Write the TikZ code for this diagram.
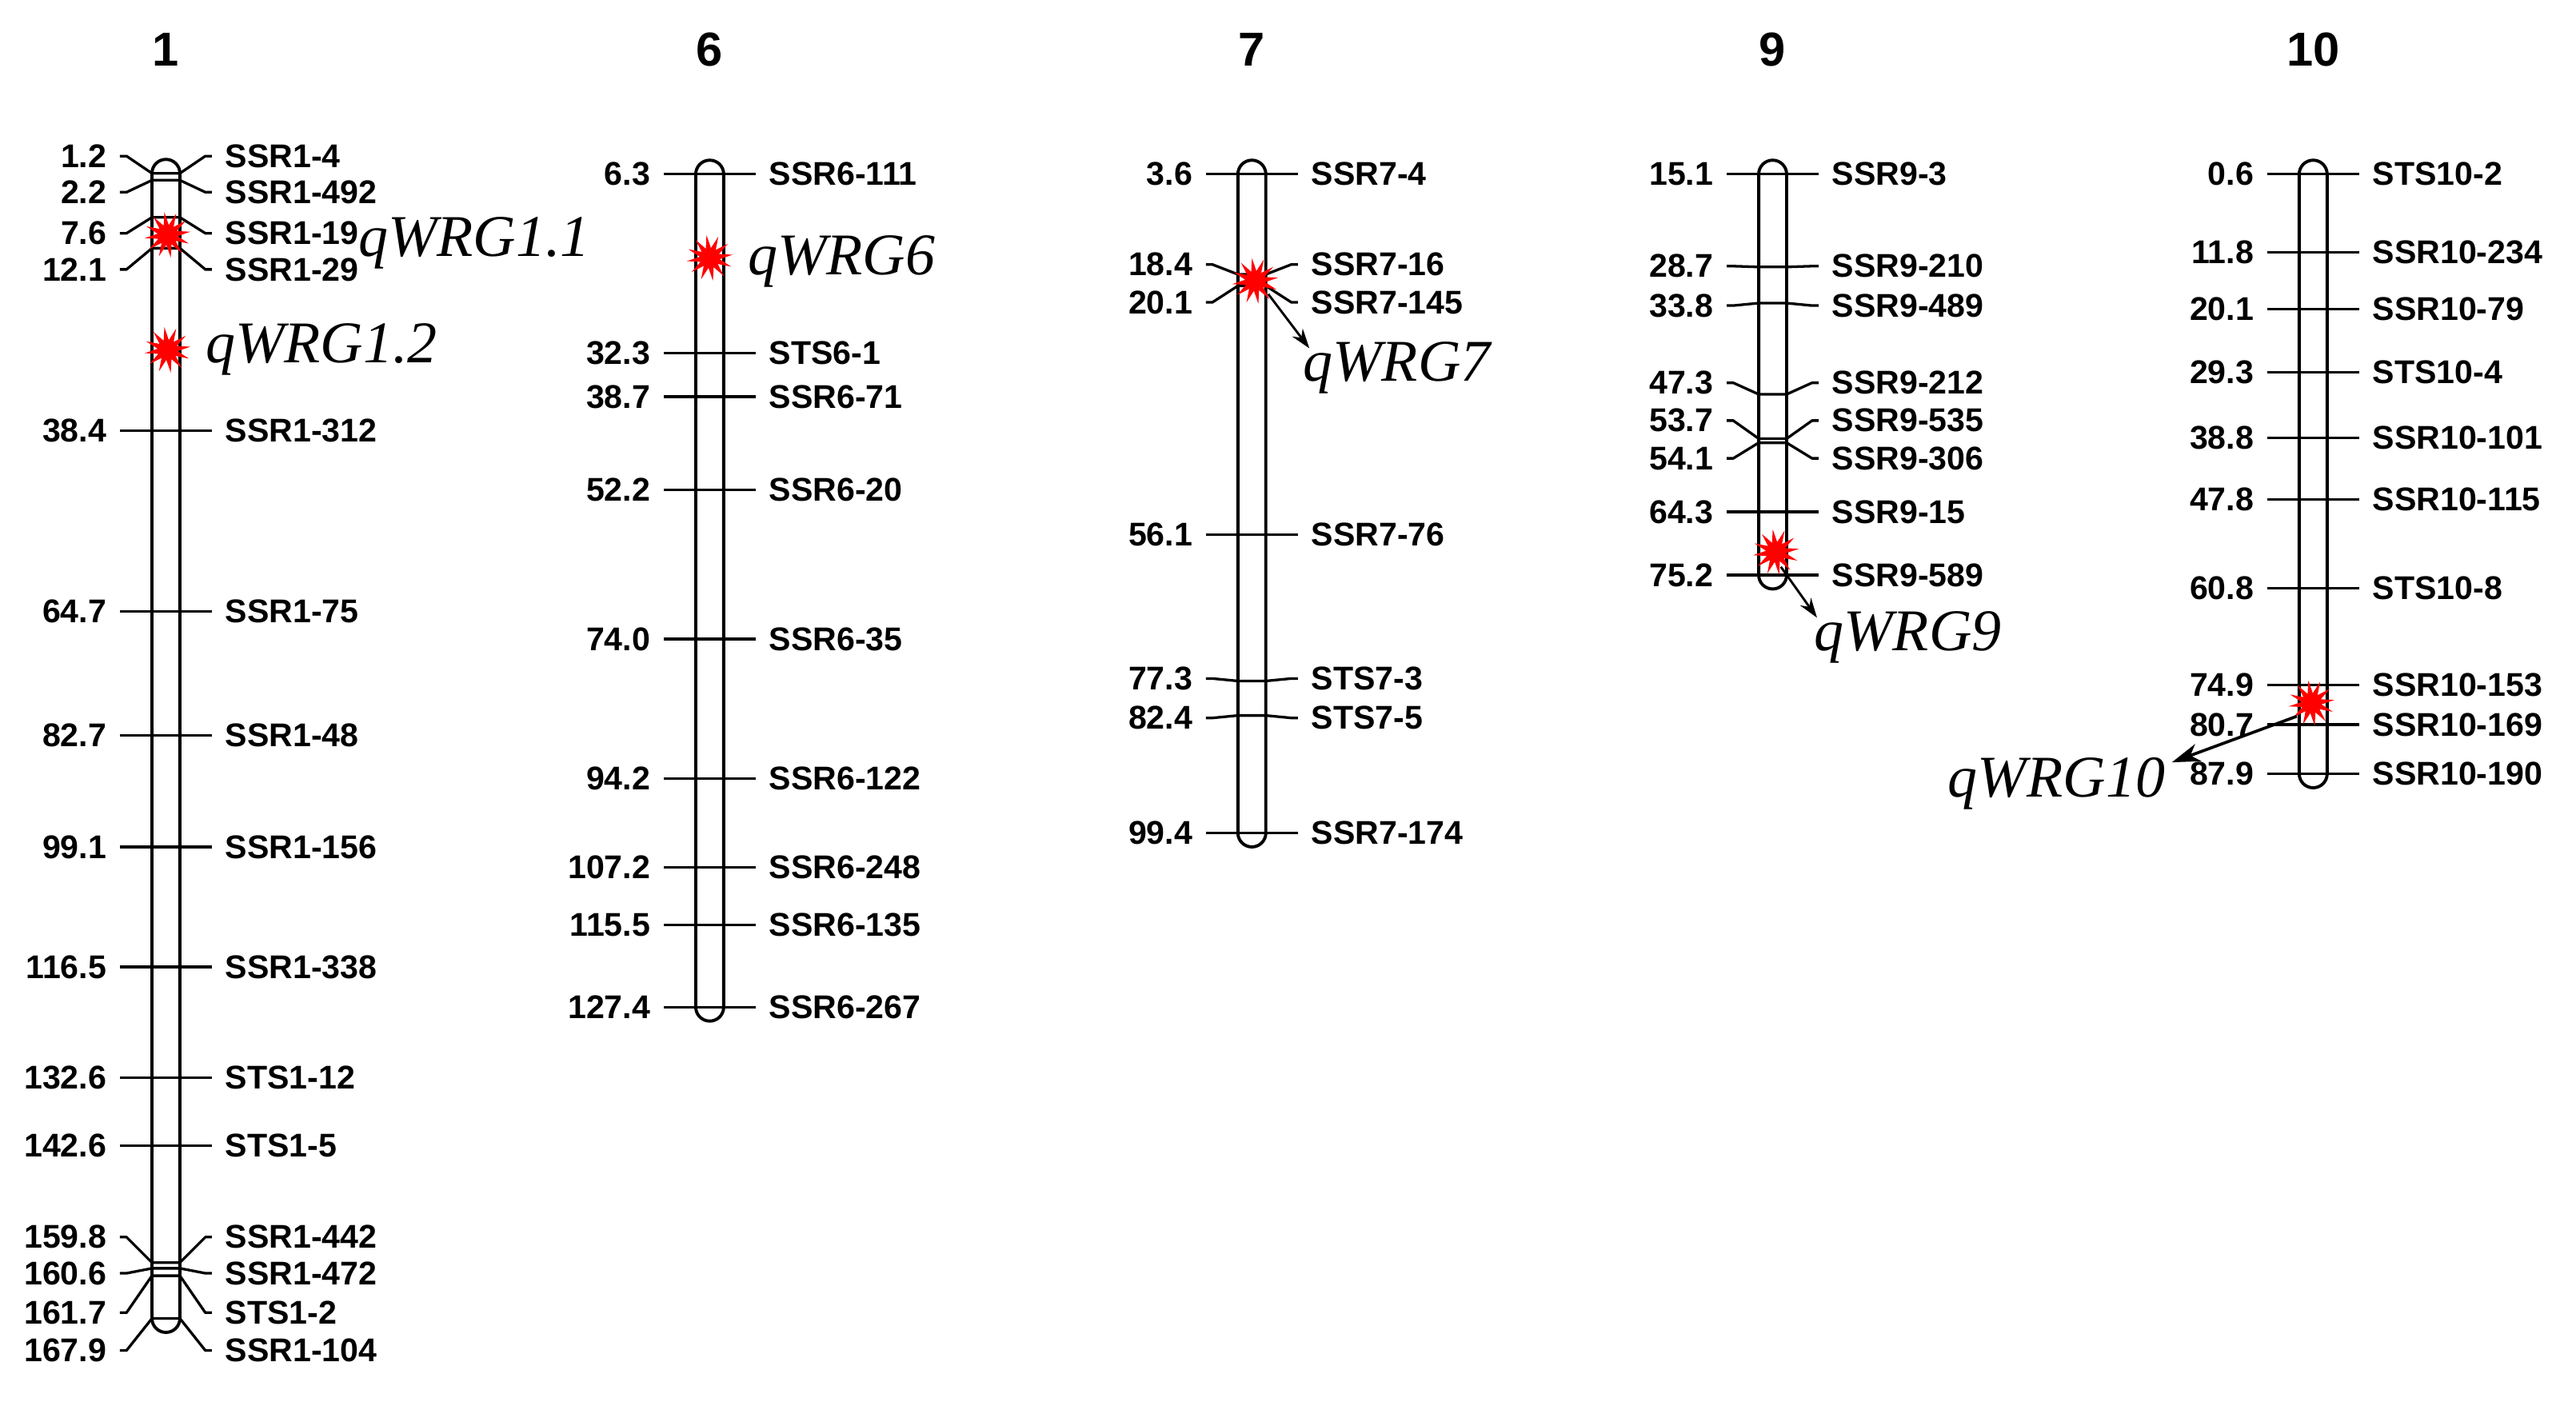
\documentclass[tikz,border=0pt]{standalone}
\usepackage{fontspec}
\setmainfont{Liberation Sans}
\newfontfamily\qfont{Liberation Serif}
\usetikzlibrary{shapes.geometric,arrows.meta}

\tikzset{
  mline/.style={line width=1.6pt, line join=round},
  chrom/.style={line width=1.9pt, rounded corners=8.5pt},
  numlab/.style={anchor=east, inner sep=0pt, font=\bfseries\fontsize{20}{24}\selectfont},
  mklab/.style={anchor=west, inner sep=0pt, font=\bfseries\fontsize{20}{24}\selectfont},
  chrtitle/.style={inner sep=0pt, font=\bfseries\fontsize{29}{34}\selectfont},
  qlab/.style={inner sep=0pt, font=\qfont\itshape\fontsize{36}{40}\selectfont},
  burst/.style={star, star points=12, star point ratio=2.3, minimum size=28pt, inner sep=0pt, fill=red, draw=none},
  arr/.style={line width=1.4pt, -{Stealth[length=12pt,width=8pt]}},
  bigarr/.style={line width=1.8pt, -{Stealth[length=17pt,width=11pt,inset=5pt]}}
}

% cx, y of marker on chromosome, y of label, position, marker name, id
\newcommand\chrmk[6]{%
  \draw[mline] ({#1-28},#3) -- ({#1-24},#3) -- ({#1-8.5},#2) -- ({#1+8.5},#2) -- ({#1+24},#3) -- ({#1+28},#3);
  \node[numlab] (v-#6) at ({#1-36},#3) {#4};
  \node[mklab] (m-#6) at ({#1+36},#3) {#5};
}
% cx, y first marker, y last marker
\newcommand\chrbody[3]{%
  \draw[chrom] ({#1-8.5},{#2-8.5}) rectangle ({#1+8.5},{#3+8.5});
}

\begin{document}
\begin{tikzpicture}[x=1pt,y=-1pt]
\useasboundingbox (0,0) rectangle (1568,853);

% titles
\node[chrtitle] (t1) at (101,30) {1};
\node[chrtitle] (t6) at (432,30) {6};
\node[chrtitle] (t7) at (762,30) {7};
\node[chrtitle] (t9) at (1079,30) {9};
\node[chrtitle] (t10) at (1408,30) {10};

% ---------- chromosome 1 ----------
\chrbody{101}{105.5}{802.5}
\chrmk{101}{105.5}{95}{1.2}{SSR1-4}{a1}
\chrmk{101}{109.7}{117}{2.2}{SSR1-492}{a2}
\chrmk{101}{132.3}{142}{7.6}{SSR1-19}{a3}
\chrmk{101}{151.1}{164}{12.1}{SSR1-29}{a4}
\chrmk{101}{262}{262}{38.4}{SSR1-312}{a5}
\chrmk{101}{372}{372}{64.7}{SSR1-75}{a6}
\chrmk{101}{447.5}{447.5}{82.7}{SSR1-48}{a7}
\chrmk{101}{515.5}{515.5}{99.1}{SSR1-156}{a8}
\chrmk{101}{588.5}{588.5}{116.5}{SSR1-338}{a9}
\chrmk{101}{656}{656}{132.6}{STS1-12}{a10}
\chrmk{101}{697.5}{697.5}{142.6}{STS1-5}{a11}
\chrmk{101}{768.5}{753}{159.8}{SSR1-442}{a12}
\chrmk{101}{772}{775}{160.6}{SSR1-472}{a13}
\chrmk{101}{776.5}{799}{161.7}{STS1-2}{a14}
\chrmk{101}{802.5}{822}{167.9}{SSR1-104}{a15}
\node[burst, rotate=8] (s11) at (102,143) {};
\node[burst, rotate=8] (s12) at (102,213) {};
\node[qlab, anchor=base west] (q11) at (218,156) {qWRG1.1};
\node[qlab, anchor=base west] (q12) at (125,221) {qWRG1.2};

% ---------- chromosome 6 ----------
\chrbody{432}{106}{613}
\chrmk{432}{106}{106}{6.3}{SSR6-111}{b1}
\chrmk{432}{215}{215}{32.3}{STS6-1}{b2}
\chrmk{432}{241.5}{241.5}{38.7}{SSR6-71}{b3}
\chrmk{432}{298}{298}{52.2}{SSR6-20}{b4}
\chrmk{432}{389}{389}{74.0}{SSR6-35}{b5}
\chrmk{432}{474}{474}{94.2}{SSR6-122}{b6}
\chrmk{432}{528}{528}{107.2}{SSR6-248}{b7}
\chrmk{432}{563}{563}{115.5}{SSR6-135}{b8}
\chrmk{432}{613}{613}{127.4}{SSR6-267}{b9}
\node[burst, rotate=8] (s6) at (432,157) {};
\node[qlab, anchor=base west] (q6) at (455,167) {qWRG6};

% ---------- chromosome 7 ----------
\chrbody{762}{106}{507}
\chrmk{762}{106}{106}{3.6}{SSR7-4}{c1}
\chrmk{762}{167}{161}{18.4}{SSR7-16}{c2}
\chrmk{762}{174}{184}{20.1}{SSR7-145}{c3}
\chrmk{762}{325.5}{325.5}{56.1}{SSR7-76}{c4}
\chrmk{762}{414.5}{413}{77.3}{STS7-3}{c5}
\chrmk{762}{435.5}{437}{82.4}{STS7-5}{c6}
\chrmk{762}{507}{507}{99.4}{SSR7-174}{c7}
\node[burst, rotate=8] (s7) at (764,171) {};
\node[qlab, anchor=base west] (q7) at (793,232) {qWRG7};
\coordinate (a7s) at (772,179);
\coordinate (a7e) at (797,212);
\draw[arr] (a7s) -- (a7e);

% ---------- chromosome 9 ----------
\chrbody{1079}{106}{350}
\chrmk{1079}{106}{106}{15.1}{SSR9-3}{d1}
\chrmk{1079}{162.5}{162}{28.7}{SSR9-210}{d2}
\chrmk{1079}{184.5}{186}{33.8}{SSR9-489}{d3}
\chrmk{1079}{240}{233}{47.3}{SSR9-212}{d4}
\chrmk{1079}{267}{256}{53.7}{SSR9-535}{d5}
\chrmk{1079}{269.5}{279}{54.1}{SSR9-306}{d6}
\chrmk{1079}{311.5}{311.5}{64.3}{SSR9-15}{d7}
\chrmk{1079}{350}{350}{75.2}{SSR9-589}{d8}
\node[burst, rotate=8] (s9) at (1081,336) {};
\node[qlab, anchor=base west] (q9) at (1104,396) {qWRG9};
\coordinate (a9s) at (1084,345);
\coordinate (a9e) at (1106,376);
\draw[arr] (a9s) -- (a9e);

% ---------- chromosome 10 ----------
\chrbody{1408}{106}{471}
\chrmk{1408}{106}{106}{0.6}{STS10-2}{e1}
\chrmk{1408}{153.5}{153.5}{11.8}{SSR10-234}{e2}
\chrmk{1408}{188}{188}{20.1}{SSR10-79}{e3}
\chrmk{1408}{226.5}{226.5}{29.3}{STS10-4}{e4}
\chrmk{1408}{266.5}{266.5}{38.8}{SSR10-101}{e5}
\chrmk{1408}{304}{304}{47.8}{SSR10-115}{e6}
\chrmk{1408}{358}{358}{60.8}{STS10-8}{e7}
\chrmk{1408}{417}{417}{74.9}{SSR10-153}{e8}
\chrmk{1408}{441}{441}{80.7}{SSR10-169}{e9}
\chrmk{1408}{471}{471}{87.9}{SSR10-190}{e10}
\node[burst, rotate=8] (s10) at (1407,428) {};
\node[qlab, anchor=base east] (q10) at (1318,485) {qWRG10};
\coordinate (a10s) at (1398,436);
\coordinate (a10e) at (1322,464);
\draw[bigarr] (a10s) -- (a10e);
\end{tikzpicture}
\end{document}
